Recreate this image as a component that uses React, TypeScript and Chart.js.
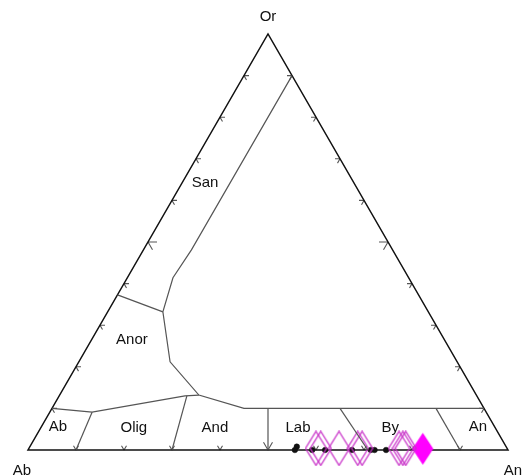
import { useEffect, useRef } from "react";
import { Chart, registerables } from "chart.js";

Chart.register(...registerables);

const SQ = Math.sqrt(3) / 2;

// Feldspar compositions as mole fractions of An and Or (Ab is the remainder)
const blackAn = [0.556, 0.556, 0.592, 0.619, 0.675, 0.714, 0.722, 0.746];
const blackOr = [0.008, 0.0, 0.0, 0.0, 0.0, 0.0, 0.0, 0.0];
const openAn = [0.598, 0.608, 0.646, 0.685, 0.694, 0.771, 0.779, 0.785];
const openOr = [0.004, 0.004, 0.004, 0.004, 0.004, 0.004, 0.004, 0.004];
const filledAn = [0.821];
const filledOr = [0.003];

// Field boundaries (An, Or)
const sanAn = [0.1, 0.1, 0.095, 0.115, 0.19, 0.29, 0.4, 0.9];
const sanOr = [0.9, 0.481, 0.414, 0.332, 0.212, 0.132, 0.1, 0.1];
const anorAn = [0.0, 0.115];
const anorOr = [0.373, 0.332];
const albAn = [0.0, 0.088, 0.262, 0.29];
const albOr = [0.1, 0.091, 0.13, 0.132];
const abOligAn = [0.088, 0.1];
const abOligOr = [0.091, 0.0];
const oligAndAn = [0.266, 0.3];
const oligAndOr = [0.13, 0.0];
const andLabAn = [0.45, 0.5];
const andLabOr = [0.1, 0.0];
const labByAn = [0.6, 0.708];
const labByOr = [0.1, 0.0];
const byAnAn = [0.8, 0.9];
const byAnOr = [0.1, 0.0];

// Tick positions along every side
const tickFractions = [0.1, 0.2, 0.3, 0.4, 0.5, 0.6, 0.7, 0.8, 0.9];

// Field names and where they sit (An, Or)
const fieldNames = ["San", "Anor", "Ab", "Olig", "And", "Lab", "By", "An"];
const fieldAn = [0.048, 0.084, 0.035, 0.194, 0.363, 0.536, 0.728, 0.91];
const fieldOr = [0.642, 0.265, 0.055, 0.053, 0.053, 0.053, 0.053, 0.055];

const toXY = (an: number, or: number) => ({ x: an + or / 2, y: or * SQ });
const series = (an: number[], or: number[]) => an.map((a, i) => toXY(a, or[i]));

function diamond(w: number, h: number, fill: string | null, stroke: string | null) {
  const c = document.createElement("canvas");
  c.width = w + 2;
  c.height = h + 2;
  const g = c.getContext("2d")!;
  g.beginPath();
  g.moveTo(c.width / 2, 1);
  g.lineTo(c.width - 1, c.height / 2);
  g.lineTo(c.width / 2, c.height - 1);
  g.lineTo(1, c.height / 2);
  g.closePath();
  if (fill) {
    g.fillStyle = fill;
    g.fill();
  }
  if (stroke) {
    g.strokeStyle = stroke;
    g.lineWidth = 1.3;
    g.stroke();
  }
  return c;
}

const FONT = '15px "Liberation Sans", Arial, sans-serif';

const framePlugin = {
  id: "ternaryFrame",
  beforeDatasetsDraw(chart: any) {
    const { ctx } = chart;
    const xs = chart.scales.x;
    const ys = chart.scales.y;
    const px = (an: number, or: number) => {
      const p = toXY(an, or);
      return [xs.getPixelForValue(p.x), ys.getPixelForValue(p.y)];
    };
    ctx.save();
    // ticks
    ctx.strokeStyle = "#555";
    ctx.lineWidth = 1.1;
    const arm = (p: number[], dx: number, dy: number, len: number) => {
      ctx.moveTo(p[0], p[1]);
      ctx.lineTo(p[0] + dx * len, p[1] + dy * len);
    };
    ctx.beginPath();
    tickFractions.forEach((t) => {
      const len = Math.abs(t - 0.5) < 1e-6 ? 9 : 5;
      const l = px(0, t);
      arm(l, 1, 0, len);
      arm(l, 0.5, SQ, len);
      const r = px(1 - t, t);
      arm(r, -1, 0, len);
      arm(r, -0.5, SQ, len);
      const b = px(t, 0);
      arm(b, -0.5, -SQ, len);
      arm(b, 0.5, -SQ, len);
    });
    ctx.stroke();
    // triangle
    const a = px(0, 0);
    const n = px(1, 0);
    const o = px(0, 1);
    ctx.strokeStyle = "#111";
    ctx.lineWidth = 1.5;
    ctx.beginPath();
    ctx.moveTo(a[0], a[1]);
    ctx.lineTo(n[0], n[1]);
    ctx.lineTo(o[0], o[1]);
    ctx.closePath();
    ctx.stroke();
    ctx.restore();
  },
  afterDatasetsDraw(chart: any) {
    const { ctx } = chart;
    const xs = chart.scales.x;
    const ys = chart.scales.y;
    const px = (an: number, or: number) => {
      const p = toXY(an, or);
      return [xs.getPixelForValue(p.x), ys.getPixelForValue(p.y)];
    };
    ctx.save();
    ctx.font = FONT;
    ctx.fillStyle = "#111";
    ctx.textAlign = "center";
    ctx.textBaseline = "middle";
    fieldNames.forEach((name, i) => {
      const p = px(fieldAn[i], fieldOr[i]);
      ctx.fillText(name, p[0], p[1]);
    });
    const o = px(0, 1);
    ctx.fillText("Or", o[0], o[1] - 17);
    const a = px(0, 0);
    ctx.fillText("Ab", a[0] - 6, a[1] + 21);
    const n = px(1, 0);
    ctx.fillText("An", n[0] + 5, n[1] + 21);
    ctx.restore();
  },
};

export default function App() {
  const ref = useRef<HTMLCanvasElement | null>(null);

  useEffect(() => {
    if (!ref.current) return;
    const openStyle = diamond(21, 34, null, "#C832C8");
    const filledStyle = diamond(21, 32, "#FF00FF", null);
    const boundary = (an: number[], or: number[]) => ({
      data: series(an, or),
      showLine: true,
      borderColor: "#555",
      borderWidth: 1.2,
      pointRadius: 0,
      clip: false as const,
    });
    const chart = new Chart(ref.current, {
      type: "scatter",
      data: {
        datasets: [
          boundary(sanAn, sanOr),
          boundary(anorAn, anorOr),
          boundary(albAn, albOr),
          boundary(abOligAn, abOligOr),
          boundary(oligAndAn, oligAndOr),
          boundary(andLabAn, andLabOr),
          boundary(labByAn, labByOr),
          boundary(byAnAn, byAnOr),
          {
            data: series(openAn, openOr),
            pointStyle: openStyle,
            pointRadius: 10,
            clip: false as const,
          },
          {
            data: series(blackAn, blackOr),
            pointStyle: "circle",
            pointRadius: 2.8,
            backgroundColor: "#111",
            borderColor: "#111",
            borderWidth: 0.5,
            clip: false as const,
          },
          {
            data: series(filledAn, filledOr),
            pointStyle: filledStyle,
            pointRadius: 10,
            clip: false as const,
          },
        ],
      },
      options: {
        animation: false,
        responsive: false,
        events: [],
        layout: { padding: { left: 28, right: 16, top: 34, bottom: 26 } },
        scales: {
          x: { type: "linear", min: 0, max: 1, display: false },
          y: { type: "linear", min: 0, max: SQ, display: false },
        },
        plugins: {
          legend: { display: false },
          tooltip: { enabled: false },
        },
      },
      plugins: [framePlugin],
    });
    return () => chart.destroy();
  }, []);

  return (
    <div
      style={{
        position: "fixed",
        left: 0,
        top: 0,
        width: 524,
        height: 476,
        background: "#fff",
      }}
    >
      <canvas ref={ref} width={524} height={476} style={{ display: "block" }} />
    </div>
  );
}
